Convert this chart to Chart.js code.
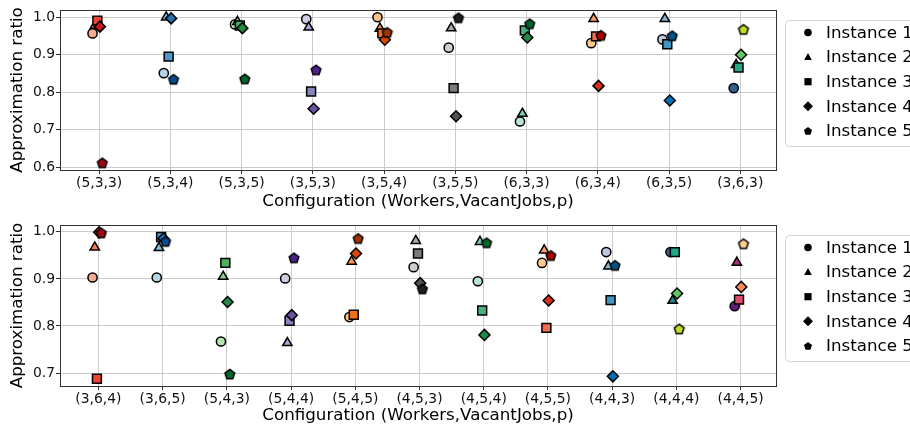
<!DOCTYPE html>
<html>
<head>
<meta charset="utf-8">
<script src="https://cdn.jsdelivr.net/npm/chart.js@4.4.1/dist/chart.umd.min.js"></script>
<style>
  body { margin: 0; background: #fff; overflow: hidden; }
  canvas { display: block; }
</style>
</head>
<body>
<canvas id="topChart" width="910" height="215"></canvas>
<canvas id="bottomChart" width="910" height="214"></canvas>
<script>
// configurations (Workers,VacantJobs,p)
const topConfigs = ['(5,3,3)', '(5,3,4)', '(5,3,5)', '(3,5,3)', '(3,5,4)', '(3,5,5)', '(6,3,3)', '(6,3,4)', '(6,3,5)', '(3,6,3)'];
const bottomConfigs = ['(3,6,4)', '(3,6,5)', '(5,4,3)', '(5,4,4)', '(5,4,5)', '(4,5,3)', '(4,5,4)', '(4,5,5)', '(4,4,3)', '(4,4,4)', '(4,4,5)'];
const instanceNames = ['Instance 1', 'Instance 2', 'Instance 3', 'Instance 4', 'Instance 5'];

// approximation ratio, top panel
const topInst1 = [0.957, 0.851, 0.981, 0.995, 1.000, 0.919, 0.722, 0.931, 0.941, 0.811];
const topInst2 = [0.978, 1.000, 0.988, 0.973, 0.970, 0.971, 0.743, 0.996, 0.996, 0.873];
const topInst3 = [0.991, 0.895, 0.978, 0.802, 0.957, 0.811, 0.965, 0.949, 0.928, 0.866];
const topInst4 = [0.975, 0.997, 0.971, 0.756, 0.940, 0.736, 0.946, 0.817, 0.778, 0.900];
const topInst5 = [0.612, 0.835, 0.836, 0.860, 0.960, 0.999, 0.983, 0.952, 0.951, 0.968];

// approximation ratio, bottom panel
const bottomInst1 = [0.903, 0.903, 0.767, 0.901, 0.819, 0.925, 0.895, 0.934, 0.957, 0.957, 0.842];
const bottomInst2 = [0.967, 0.966, 0.905, 0.764, 0.937, 0.981, 0.979, 0.961, 0.927, 0.854, 0.935];
const bottomInst3 = [0.688, 0.989, 0.934, 0.811, 0.824, 0.954, 0.833, 0.796, 0.855, 0.957, 0.856];
const bottomInst4 = [0.999, 0.986, 0.851, 0.823, 0.954, 0.891, 0.781, 0.854, 0.693, 0.869, 0.883];
const bottomInst5 = [0.998, 0.980, 0.698, 0.945, 0.986, 0.879, 0.977, 0.950, 0.929, 0.794, 0.975];

// one colour ramp per configuration (instance 1..5)
const palettes = [
  ['#fcab8e', '#fb7a5a', '#f14432', '#cb181d', '#990c13'], // Reds
  ['#b6d4e9', '#7fb9da', '#4a98c9', '#2171b5', '#084a92'], // Blues
  ['#b8e3b1', '#86cc85', '#4bb062', '#238b45', '#006529'], // Greens
  ['#cecee5', '#aaa8d0', '#8683bd', '#6a51a3', '#501f8b'], // Purples
  ['#fdc28c', '#fd9a4f', '#f3701b', '#d94801', '#9e3303'], // Oranges
  ['#cecece', '#a6a6a6', '#7a7a7a', '#525252', '#1e1e1e'], // Greys
  ['#b8e4da', '#7acbb3', '#48b27f', '#238b45', '#006529'], // BuGn
  ['#fdca94', '#fc9f6a', '#f26d4b', '#d7301f', '#a90000'], // OrRd
  ['#bfc9e2', '#88b1d4', '#4295c3', '#0570b0', '#045382'], // PuBu
  ['#355f8d', '#25858e', '#22a884', '#5fc861', '#bddf26'], // viridis
  ['#641a80', '#a1307e', '#de4968', '#fb8761', '#fecf92']  // magma
];

const shapes = ['circle', 'triangle', 'rect', 'rectRot', 'pentagon'];
const radii = [4.6, 5.4, 6.3, 5.5, 5.1];
const xShift = [-0.092, -0.058, -0.024, 0.011, 0.045];

Chart.defaults.font.family = "'DejaVu Sans', sans-serif";
Chart.defaults.font.size = 13.9;
Chart.defaults.color = '#111';

function pentagonPath(g, x, y, r) {
  g.beginPath();
  for (let k = 0; k < 5; k++) {
    const a = -Math.PI / 2 + k * 2 * Math.PI / 5;
    const px = x + r * Math.cos(a), py = y + r * Math.sin(a);
    if (k === 0) g.moveTo(px, py); else g.lineTo(px, py);
  }
  g.closePath();
}

function pentagonImage(color, r) {
  const c = document.createElement('canvas');
  c.width = c.height = 16;
  const g = c.getContext('2d');
  pentagonPath(g, 8, 8.5, r);
  g.fillStyle = color;
  g.fill();
  g.lineWidth = 1.5;
  g.strokeStyle = '#000';
  g.stroke();
  return c;
}

// black markers for the legend
function legendMarker(ctx, shape, x, y) {
  ctx.beginPath();
  if (shape === 'circle') {
    ctx.arc(x, y, 3.8, 0, Math.PI * 2);
  } else if (shape === 'triangle') {
    ctx.moveTo(x, y - 4); ctx.lineTo(x + 3.8, y + 3); ctx.lineTo(x - 3.8, y + 3);
  } else if (shape === 'rect') {
    ctx.rect(x - 3.6, y - 3.6, 7.2, 7.2);
  } else if (shape === 'rectRot') {
    ctx.moveTo(x, y - 5); ctx.lineTo(x + 5, y); ctx.lineTo(x, y + 5); ctx.lineTo(x - 5, y);
  } else {
    pentagonPath(ctx, x, y + 0.4, 4.2);
  }
  ctx.closePath();
  ctx.fill();
}

const frame = {
  id: 'frame',
  afterDatasetsDraw(chart) {
    const {left, top, right, bottom} = chart.chartArea;
    const ctx = chart.ctx;
    ctx.save();
    ctx.strokeStyle = '#333';
    ctx.lineWidth = 1;
    ctx.strokeRect(Math.round(left) + 0.5, Math.round(top) + 0.5, Math.round(right - left), Math.round(bottom - top));
    ctx.restore();
  }
};

const legendBox = {
  id: 'legendBox',
  afterDraw(chart) {
    const ctx = chart.ctx;
    ctx.save();
    const bx = 785.5, by = 20.5, bw = 200, bh = 126, rr = 4;
    ctx.beginPath();
    ctx.moveTo(bx + rr, by);
    ctx.lineTo(bx + bw - rr, by);
    ctx.arcTo(bx + bw, by, bx + bw, by + rr, rr);
    ctx.lineTo(bx + bw, by + bh - rr);
    ctx.arcTo(bx + bw, by + bh, bx + bw - rr, by + bh, rr);
    ctx.lineTo(bx + rr, by + bh);
    ctx.arcTo(bx, by + bh, bx, by + bh - rr, rr);
    ctx.lineTo(bx, by + rr);
    ctx.arcTo(bx, by, bx + rr, by, rr);
    ctx.closePath();
    ctx.fillStyle = '#fff';
    ctx.fill();
    ctx.strokeStyle = '#d4d4d4';
    ctx.lineWidth = 1;
    ctx.stroke();

    ctx.fillStyle = '#000';
    ctx.font = "16.7px 'DejaVu Sans', sans-serif";
    ctx.textBaseline = 'middle';
    instanceNames.forEach((name, j) => {
      const y = 32.5 + j * 24.6;
      legendMarker(ctx, shapes[j], 808, y);
      ctx.fillText(name, 826, y + 1);
    });
    ctx.restore();
  }
};

function makeChart(id, configs, series, xAxisHeight) {
  // matplotlib style 5% margins around the data
  const allY = series.flat();
  const yLo = Math.min(...allY), yHi = Math.max(...allY);
  const yPad = (yHi - yLo) * 0.05;
  const xLo = xShift[0], xHi = configs.length - 1 + xShift[4];
  const xPad = (xHi - xLo) * 0.05;

  const datasets = series.map((vals, j) => ({
    label: instanceNames[j],
    data: vals.map((v, i) => ({x: i + xShift[j], y: v})),
    pointStyle: shapes[j] === 'pentagon'
      ? configs.map((c, i) => pentagonImage(palettes[i][j], radii[j]))
      : shapes[j],
    pointRadius: radii[j],
    pointBackgroundColor: configs.map((c, i) => palettes[i][j]),
    pointBorderColor: '#000',
    pointBorderWidth: 1.5,
    order: series.length - 1 - j
  }));

  return new Chart(document.getElementById(id), {
    type: 'scatter',
    data: {datasets},
    options: {
      responsive: false,
      animation: false,
      events: [],
      layout: {padding: {top: 10, right: 134, left: 0, bottom: 0}},
      plugins: {legend: {display: false}, tooltip: {enabled: false}},
      scales: {
        x: {
          type: 'linear',
          min: xLo - xPad,
          max: xHi + xPad,
          afterBuildTicks: (axis) => { axis.ticks = configs.map((c, i) => ({value: i})); },
          afterFit: (axis) => { axis.height = xAxisHeight; },
          ticks: {
            autoSkip: false, maxRotation: 0, minRotation: 0, padding: 1,
            callback: (v, i) => configs[i]
          },
          grid: {color: '#cbcbcb', tickColor: '#333', tickLength: 4},
          border: {display: false},
          title: {
            display: true,
            text: 'Configuration (Workers,VacantJobs,p)',
            font: {size: 16.7},
            color: '#000',
            padding: {top: 0, bottom: 3}
          }
        },
        y: {
          min: yLo - yPad,
          max: yHi + yPad,
          afterFit: (axis) => { axis.width = 60; },
          ticks: {
            stepSize: 0.1, includeBounds: false, padding: 1,
            callback: (v) => v.toFixed(1)
          },
          grid: {color: '#cbcbcb', tickColor: '#333', tickLength: 4},
          border: {display: false},
          title: {
            display: true,
            text: 'Approximation ratio',
            font: {size: 16.7},
            color: '#000',
            padding: {top: 8, bottom: 0}
          }
        }
      }
    },
    plugins: [frame, legendBox]
  });
}

makeChart('topChart', topConfigs, [topInst1, topInst2, topInst3, topInst4, topInst5], 45);
makeChart('bottomChart', bottomConfigs, [bottomInst1, bottomInst2, bottomInst3, bottomInst4, bottomInst5], 43);
</script>
</body>
</html>
